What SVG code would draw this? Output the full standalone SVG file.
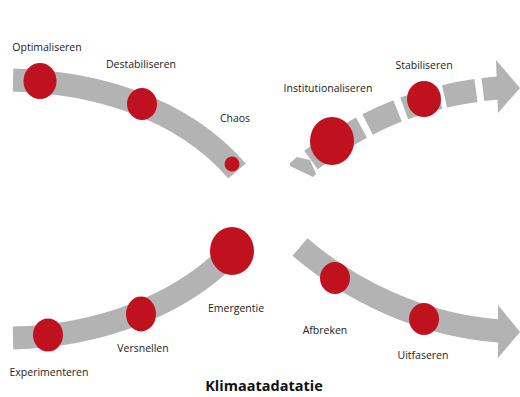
<svg xmlns="http://www.w3.org/2000/svg" width="520" height="397" viewBox="0 0 520 397">
<style>
.band{fill:none;stroke:#b3b3b3;stroke-width:23;stroke-linecap:butt}
.head{fill:#b3b3b3}
.dot{fill:#c0121e}
.lbl{font-family:"Open Sans","Liberation Sans",sans-serif;font-size:10.5px;fill:#222;text-anchor:middle}
.title{font-family:"Open Sans","Liberation Sans",sans-serif;font-size:14.5px;font-weight:bold;fill:#111;text-anchor:middle}
</style>
<rect width="520" height="397" fill="#ffffff"/>
<g id="connectors">
<path id="band-tl" class="band" d="M13,80 C90,82 180,105 237,171"/>
<polygon class="head" points="290,163 297,157 310,160 316,174 313,177 290,166"/>
<path id="band-tr" class="band" d="M311,160 C350,132 405,96 498,88" stroke-width="22" stroke-dasharray="60 7 33 7 37 5 32 7 100"/>
<polygon class="head" points="496,60 520,88 498,113"/>
<path id="band-bl" class="band" d="M13,338 C100,336 180,305 230,254"/>
<path id="band-br" class="band" d="M300,247 C350,290 420,325 499,331"/>
<polygon class="head" points="498,305 520,332 498,358"/>
</g>
<g id="optimaliseren"><ellipse class="dot" cx="40" cy="81" rx="16.5" ry="18"/><text class="lbl" x="47" y="51">Optimaliseren</text></g>
<g id="destabiliseren"><ellipse class="dot" cx="142" cy="104" rx="15" ry="16"/><text class="lbl" x="141" y="68">Destabiliseren</text></g>
<g id="chaos"><ellipse class="dot" cx="232" cy="164" rx="7.5" ry="7.5"/><text class="lbl" x="235" y="122">Chaos</text></g>
<g id="institutionaliseren"><ellipse class="dot" cx="332" cy="141" rx="22" ry="24"/><text class="lbl" x="328" y="92">Institutionaliseren</text></g>
<g id="stabiliseren"><ellipse class="dot" cx="424" cy="99" rx="17" ry="18"/><text class="lbl" x="424" y="69">Stabiliseren</text></g>
<g id="emergentie"><ellipse class="dot" cx="232" cy="251" rx="22" ry="24"/><text class="lbl" x="236" y="312">Emergentie</text></g>
<g id="versnellen"><ellipse class="dot" cx="141" cy="314" rx="15" ry="17.5"/><text class="lbl" x="143" y="352">Versnellen</text></g>
<g id="experimenteren"><ellipse class="dot" cx="48" cy="335" rx="15" ry="16.5"/><text class="lbl" x="49" y="376">Experimenteren</text></g>
<g id="afbreken"><ellipse class="dot" cx="335" cy="278" rx="15" ry="16"/><text class="lbl" x="325" y="334">Afbreken</text></g>
<g id="uitfaseren"><ellipse class="dot" cx="424" cy="319" rx="15" ry="16"/><text class="lbl" x="423" y="359">Uitfaseren</text></g>
<text class="title" x="264" y="391">Klimaatadatatie</text>
</svg>
